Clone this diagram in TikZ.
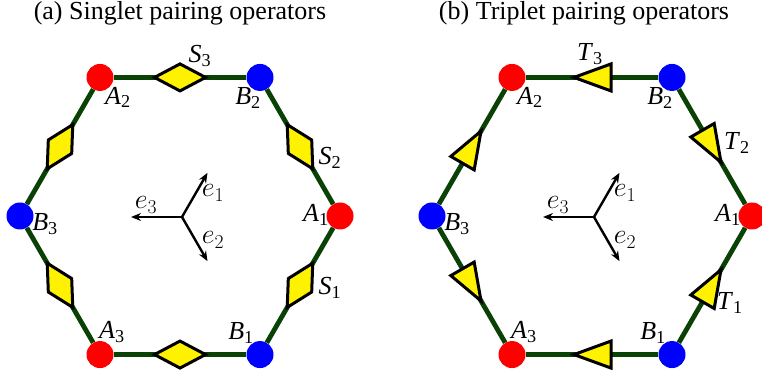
\RequirePackage{fix-cm}
\documentclass[tikz,border=0pt]{standalone}
\usepackage[no-math]{fontspec}
\setmainfont{Liberation Serif}
\newfontfamily\labfont{Liberation Serif}
\usetikzlibrary{calc,arrows.meta}
\definecolor{edgegreen}{RGB}{10,65,5}
\tikzset{
  edge/.style={draw=edgegreen,line width=4.8pt},
  siteA/.style={circle,fill=red,inner sep=0pt,minimum size=27pt},
  siteB/.style={circle,fill=blue,inner sep=0pt,minimum size=27pt},
  op/.style={draw=black,fill=yellow,line width=3pt,line join=miter},
  lbl/.style={font=\labfont\fontsize{26}{30}\selectfont,inner sep=0pt},
  elbl/.style={font=\fontsize{28}{32}\selectfont,inner sep=0pt},
  evec/.style={line width=2.4pt,-{Stealth[length=10pt,width=8pt]}},
}
\newcommand{\sublab}[2]{\textit{#1}\textsubscript{#2}}
\begin{document}
\begin{tikzpicture}[x=1pt,y=1pt]
\useasboundingbox (0,0) rectangle (762,377);
\coordinate (LC) at (180,161);
\coordinate (RC) at (592,161);
% sites
\foreach \p in {L,R}{
  \node[siteA] (\p A1) at ($(\p C)+(0:160)$) {};
  \node[siteB] (\p B2) at ($(\p C)+(60:160)$) {};
  \node[siteA] (\p A2) at ($(\p C)+(120:160)$) {};
  \node[siteB] (\p B3) at ($(\p C)+(180:160)$) {};
  \node[siteA] (\p A3) at ($(\p C)+(240:160)$) {};
  \node[siteB] (\p B1) at ($(\p C)+(300:160)$) {};
  \draw[edge] (\p A1) -- (\p B2);
  \draw[edge] (\p B2) -- (\p A2);
  \draw[edge] (\p A2) -- (\p B3);
  \draw[edge] (\p B3) -- (\p A3);
  \draw[edge] (\p A3) -- (\p B1);
  \draw[edge] (\p B1) -- (\p A1);
}
% singlet diamonds
\foreach \a/\b/\ang in {A2/B2/0, B2/A1/-60, B1/A1/60, B1/A3/0, B3/A2/60, B3/A3/-60}{
  \draw[op, shift={($(L\a)!0.5!(L\b)$)}, rotate=\ang]
    (-25.5,0) -- (0,13.5) -- (25.5,0) -- (0,-13.5) -- cycle;
}
% triplet triangles
\foreach \a/\b/\ang in {B2/A2/180, B2/A1/-60, B1/A1/60, B1/A3/180, B3/A2/60, B3/A3/-60}{
  \draw[op, shift={($(R\a)!0.5!(R\b)$)}, rotate=\ang]
    (18,0) -- (-19,13.5) -- (-19,-13.5) -- cycle;
}
% titles
\node[lbl] (ta) at (180,364) {(a) Singlet pairing operators};
\node[lbl] (tb) at (584,364) {(b) Triplet pairing operators};
% site labels
\foreach \p in {L,R}{
  \node[lbl] (\p lA1) at ($(\p A1)+(-24,1)$) {\sublab{A}{1}};
  \node[lbl] (\p lA2) at ($(\p A2)+(18,-20)$) {\sublab{A}{2}};
  \node[lbl] (\p lA3) at ($(\p A3)+(12,23)$) {\sublab{A}{3}};
  \node[lbl] (\p lB1) at ($(\p B1)+(-19,22)$) {\sublab{B}{1}};
  \node[lbl] (\p lB2) at ($(\p B2)+(-12,-21)$) {\sublab{B}{2}};
  \node[lbl] (\p lB3) at ($(\p B3)+(25,-8)$) {\sublab{B}{3}};
  % basis vectors
  \coordinate (\p O) at ($(\p C)+(2,-1)$);
  \coordinate (\p e1) at ($(\p O)+(60:51)$);
  \coordinate (\p e2) at ($(\p O)+(-60:51)$);
  \coordinate (\p e3) at ($(\p O)+(180:51)$);
  \draw[evec] (\p O) -- (\p e1);
  \draw[evec] (\p O) -- (\p e2);
  \draw[evec] (\p O) -- (\p e3);
  \node[elbl] (\p le1) at ($(\p O)+(31,24)$) {$e_1$};
  \node[elbl] (\p le2) at ($(\p O)+(31,-23)$) {$e_2$};
  \node[elbl] (\p le3) at ($(\p O)+(-36,12)$) {$e_3$};
}
% operator labels
\node[lbl] (lS3) at ($($(LA2)!0.5!(LB2)$)+(20,21)$) {\sublab{S}{3}};
\node[lbl] (lS2) at ($($(LB2)!0.5!(LA1)$)+(30,-11)$) {\sublab{S}{2}};
\node[lbl] (lS1) at ($($(LB1)!0.5!(LA1)$)+(30,-3)$) {\sublab{S}{1}};
\node[lbl] (lT3) at ($($(RA2)!0.5!(RB2)$)+(-2,23)$) {\sublab{T}{3}};
\node[lbl] (lT2) at ($($(RB2)!0.5!(RA1)$)+(25,4)$) {\sublab{T}{2}};
\node[lbl] (lT1) at ($($(RB1)!0.5!(RA1)$)+(18,-18)$) {\sublab{T}{1}};
\end{tikzpicture}
\end{document}
